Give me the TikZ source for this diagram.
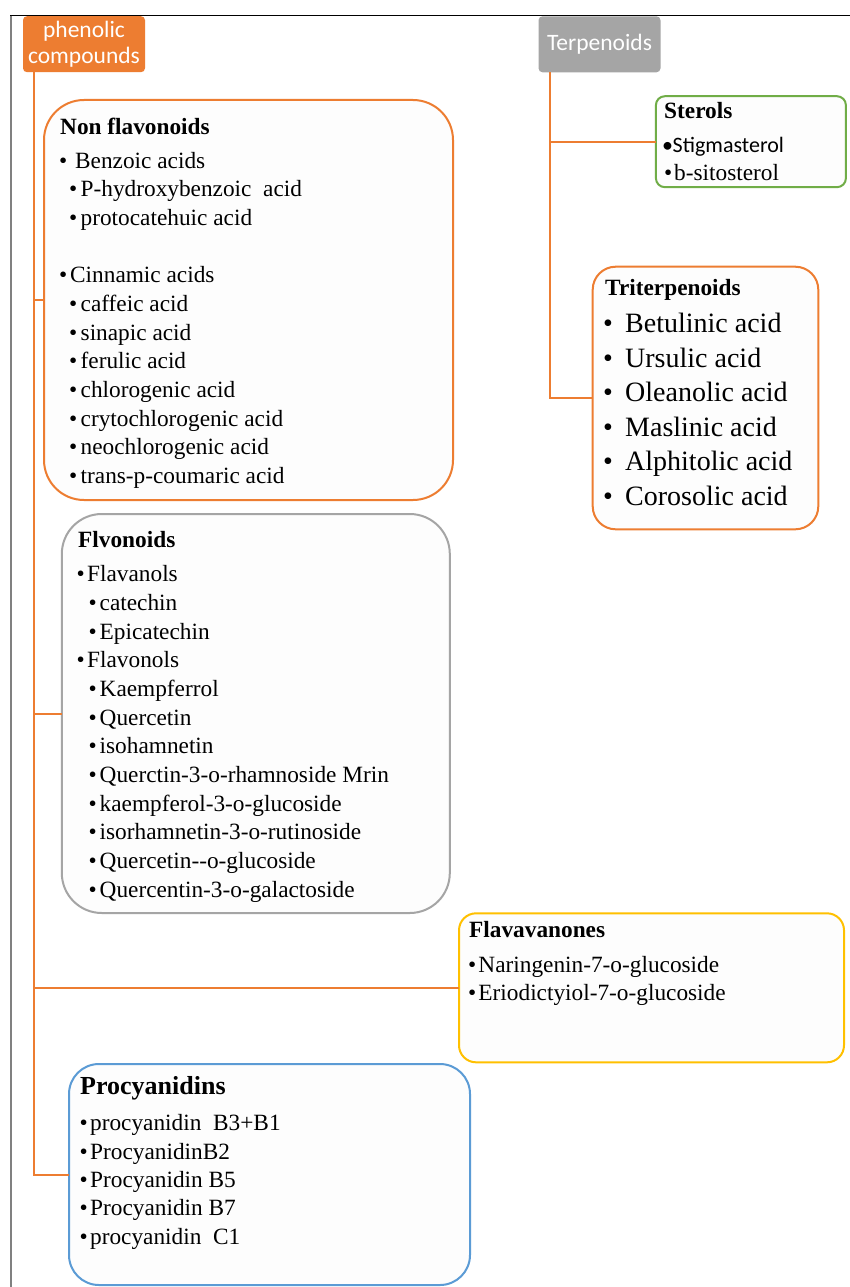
\documentclass[tikz,border=0pt]{standalone}
\usepackage{fontspec}
\setmainfont{Liberation Serif}
\newfontfamily\calfont{Carlito}
\definecolor{orng}{HTML}{ED7D31}
\definecolor{gryb}{HTML}{A5A5A5}
\definecolor{yelb}{HTML}{FFC000}
\definecolor{blub}{HTML}{5B9BD5}
\definecolor{grnb}{HTML}{70AD47}
\definecolor{boxfill}{HTML}{FDFDFD}
\newcommand\bl[1]{\makebox[#1][l]{•}}
\tikzset{
  conn/.style={draw=orng, line width=2pt},
  box/.style={draw, line width=2pt, fill=boxfill, inner sep=0pt, outer sep=0pt, rounded corners=#1},
  head/.style={inner sep=0pt, outer sep=0pt, rounded corners=4pt, text=white, align=center,
    font=\calfont\fontsize{23.5}{26.7}\selectfont},
  txt/.style={inner sep=0pt, anchor=base west, font=\fontsize{23.3}{28}\selectfont},
  ttl/.style={inner sep=0pt, anchor=base west, font=\fontsize{23.3}{28}\selectfont\bfseries},
  big/.style={inner sep=0pt, anchor=base west, font=\fontsize{28}{34}\selectfont},
}
\begin{document}
\begin{tikzpicture}[x=1pt,y=-1pt]
\useasboundingbox (0,0) rectangle (850,1287);
\fill[white] (0,0) rectangle (850,1287);

% header boxes
\node[head, fill=orng, minimum width=122pt, minimum height=56pt] (phen) at (84,44.2) {phenolic\\compounds};
\node[head, fill=gryb, minimum width=122pt, minimum height=56pt] (terp) at (599.5,44.3) {Terpenoids};

% frame
\draw[line width=1pt, black] (10,15.7) -- (850,15.7);
\draw[line width=1.5pt, black!50] (11,15.7) -- (11,1287);

% group boxes
\node[box=40pt, draw=orng, minimum width=409pt, minimum height=400pt] (nf) at (248.5,300) {};
\node[box=40pt, draw=gryb, minimum width=388pt, minimum height=399pt] (fl) at (255.8,713.5) {};
\node[box=17pt, draw=yelb, minimum width=385pt, minimum height=149pt] (fv) at (651.5,987.8) {};
\node[box=30pt, draw=blub, minimum width=401pt, minimum height=221pt] (pc) at (269.5,1174.5) {};
\node[box=9pt, draw=grnb, minimum width=190pt, minimum height=91pt] (st) at (750.9,141.7) {};
\node[box=23pt, draw=orng, minimum width=225.6pt, minimum height=262.6pt] (tr) at (705.5,398) {};

% connectors
\coordinate (ptop) at ([xshift=10.7pt]phen.south west);
\coordinate (ttop) at ([xshift=11.5pt]terp.south west);
\draw[conn] (ptop) |- (pc.west);
\draw[conn] (ptop |- nf.west) -- (nf.west);
\draw[conn] (ptop |- fl.west) -- (fl.west);
\draw[conn] (ptop |- fv.west) -- (fv.west);
\draw[conn] (ttop) |- (tr.west);
\draw[conn] (ttop |- st.west) -- (st.west);

% Non flavonoids
\node[ttl] (nft) at (60,135) {Non flavonoids};
\node[txt] (nf1) at (59,168) {\bl{16pt}Benzoic acids};
\node[txt] (nf2) at (69,196.7) {\bl{11.5pt}P-hydroxybenzoic\ \ acid};
\node[txt] (nf3) at (69,225.3) {\bl{11.5pt}protocatehuic acid};
\node[txt] (nf4) at (59,282.7) {\bl{11pt}Cinnamic acids};
\node[txt] (nf5) at (69,311.3) {\bl{11.5pt}caffeic acid};
\node[txt] (nf6) at (69,340) {\bl{11.5pt}sinapic acid};
\node[txt] (nf7) at (69,368.7) {\bl{11.5pt}ferulic acid};
\node[txt] (nf8) at (69,397.3) {\bl{11.5pt}chlorogenic acid};
\node[txt] (nf9) at (69,426) {\bl{11.5pt}crytochlorogenic acid};
\node[txt] (nf10) at (69,454.7) {\bl{11.5pt}neochlorogenic acid};
\node[txt] (nf11) at (69,483.3) {\bl{11.5pt}trans-p-coumaric acid};

% Flvonoids
\node[ttl] (flt) at (78,547.7) {Flvonoids};
\node[txt] (fl1) at (76.5,581.7) {\bl{10.5pt}Flavanols};
\node[txt] (fl2) at (88.5,610.3) {\bl{11pt}catechin};
\node[txt] (fl3) at (88.5,639) {\bl{11pt}Epicatechin};
\node[txt] (fl4) at (76.5,667.7) {\bl{10.5pt}Flavonols};
\node[txt] (fl5) at (88.5,696.3) {\bl{11pt}Kaempferrol};
\node[txt] (fl6) at (88.5,725) {\bl{11pt}Quercetin};
\node[txt] (fl7) at (88.5,753.7) {\bl{11pt}isohamnetin};
\node[txt] (fl8) at (88.5,782.3) {\bl{11pt}Querctin-3-o-rhamnoside Mrin};
\node[txt] (fl9) at (88.5,811) {\bl{11pt}kaempferol-3-o-glucoside};
\node[txt] (fl10) at (88.5,839.7) {\bl{11pt}isorhamnetin-3-o-rutinoside};
\node[txt] (fl11) at (88.5,868.3) {\bl{11pt}Quercetin-{}-o-glucoside};
\node[txt] (fl12) at (88.5,897) {\bl{11pt}Quercentin-3-o-galactoside};

% Flavavanones
\node[ttl] (fvt) at (469,937.7) {Flavavanones};
\node[txt] (fv1) at (468,972.7) {\bl{10.3pt}Naringenin-7-o-glucoside};
\node[txt] (fv2) at (468,1000) {\bl{10.3pt}Eriodictyiol-7-o-glucoside};

% Procyanidins
\node[inner sep=0pt, anchor=base west, font=\fontsize{26}{30}\selectfont\bfseries] (pct) at (80,1094.3) {Procyanidins};
\node[txt] (pc1) at (79.5,1130.7) {\bl{10.5pt}procyanidin\ \ B3+B1};
\node[txt] (pc2) at (79.5,1159) {\bl{10.5pt}ProcyanidinB2};
\node[txt] (pc3) at (79.5,1187.3) {\bl{10.5pt}Procyanidin B5};
\node[txt] (pc4) at (79.5,1215.7) {\bl{10.5pt}Procyanidin B7};
\node[txt] (pc5) at (79.5,1244) {\bl{10.5pt}procyanidin\ \ C1};

% Sterols
\node[ttl] (stt) at (664,119) {Sterols};
\node[inner sep=0pt, anchor=base west, font=\calfont\fontsize{22}{26}\selectfont] (st1) at (662,152.7) {\bl{10.5pt}Stigmasterol};
\node[txt] (st2) at (664,180) {\bl{10pt}b-sitosterol};

% Triterpenoids
\node[ttl] (trt) at (605,295) {Triterpenoids};
\node[big] (tr1) at (603,332.7) {\bl{22pt}Betulinic acid};
\node[big] (tr2) at (603,367.3) {\bl{22pt}Ursulic acid};
\node[big] (tr3) at (603,401.7) {\bl{22pt}Oleanolic acid};
\node[big] (tr4) at (603,436) {\bl{22pt}Maslinic acid};
\node[big] (tr5) at (603,470.7) {\bl{22pt}Alphitolic acid};
\node[big] (tr6) at (603,505) {\bl{22pt}Corosolic acid};
\end{tikzpicture}
\end{document}
